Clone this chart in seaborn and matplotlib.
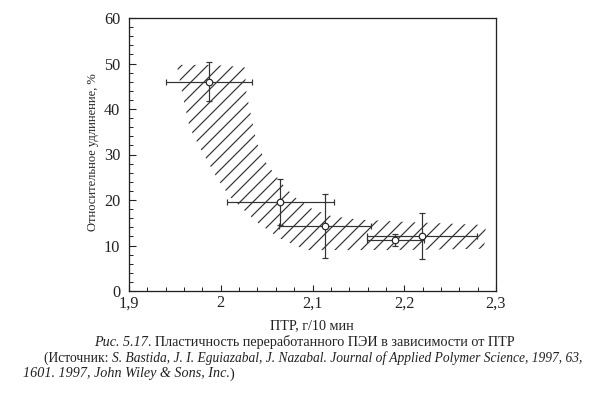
import numpy as np
import matplotlib
matplotlib.use("Agg")
import matplotlib.pyplot as plt
import seaborn as sns
import pandas as pd

# measured points (PTR, elongation) with error bars
ptr = [1.987, 2.065, 2.114, 2.190, 2.219]
elong = [46.0, 19.5, 14.3, 11.2, 12.1]
ptr_err = [0.047, 0.058, 0.050, 0.031, 0.060]
elong_err = [4.3, 5.1, 7.0, 1.4, 5.1]

# hatched band outline
band_upper_x = [1.952, 1.99, 2.026, 2.028, 2.034, 2.039, 2.05, 2.065, 2.08, 2.10, 2.12, 2.15, 2.20, 2.25, 2.289]
band_upper_y = [49.7, 49.7, 49.2, 43.5, 37.6, 32.7, 28.0, 24.0, 20.7, 18.0, 16.5, 15.7, 15.2, 14.8, 14.5]
band_lower_x = [1.952, 1.958, 1.966, 1.977, 1.996, 2.01, 2.039, 2.064, 2.093, 2.126, 2.20, 2.287]
band_lower_y = [49.7, 43.5, 36.0, 31.6, 24.8, 20.7, 15.2, 11.6, 9.0, 9.0, 9.0, 9.3]

x_ticks = [1.9, 2.0, 2.1, 2.2, 2.3]
x_ticklabels = ["1,9", "2", "2,1", "2,2", "2,3"]
y_ticks = [0, 10, 20, 30, 40, 50, 60]

sns.set_theme(style="ticks")
plt.rcParams['font.family'] = ['Liberation Serif', 'DejaVu Serif']
plt.rcParams['hatch.linewidth'] = 1.1

DPI = 78
W, H = 600, 393
fig = plt.figure(figsize=(W / DPI, H / DPI), dpi=DPI)
ax = fig.add_axes([129 / W, 1 - 291 / H, (496 - 129) / W, (291 - 18) / H])

# hatched band
poly_x = band_upper_x + band_lower_x[::-1]
poly_y = band_upper_y + band_lower_y[::-1]
ax.fill(poly_x, poly_y, facecolor='none', edgecolor='#333333', linewidth=0, hatch='//')

# error bars + open markers
ax.errorbar(ptr, elong, xerr=ptr_err, yerr=elong_err, fmt='none',
            ecolor='#333333', elinewidth=1.1, capsize=3, capthick=1.1)
df = pd.DataFrame({'ptr': ptr, 'elong': elong})
sns.scatterplot(data=df, x='ptr', y='elong', ax=ax, marker='o', s=36,
                facecolor='white', edgecolor='#222222', linewidth=1.1, zorder=5)

ax.set_xlim(1.9, 2.3)
ax.set_ylim(0, 60)
ax.set_xticks(x_ticks)
ax.set_xticklabels(x_ticklabels)
ax.set_yticks(y_ticks)
ax.set_xticks(np.arange(1.9, 2.3, 0.02), minor=True)
ax.set_yticks(np.arange(0, 60, 2), minor=True)
ax.tick_params(which='both', direction='in', top=False, right=False, colors='#222222',
               labelsize=15, labelcolor='#222222')
ax.tick_params(which='major', length=6, width=1.0)
ax.tick_params(axis='x', which='major', pad=4)
ax.tick_params(axis='y', which='major', pad=8)
ax.tick_params(which='minor', length=3.5, width=0.9)
for s in ax.spines.values():
    s.set_linewidth(1.2)
    s.set_color('#222222')

ax.set_xlabel("")
ax.set_ylabel("")


def px(x, y):
    return x / W, 1 - y / H


fig.text(*px(312, 326), "ПТР, г/10 мин", ha='center', va='center', fontsize=13, color='#222222')
fig.text(*px(93, 152), "Относительное удлинение, %", ha='center', va='center',
         rotation=90, fontsize=11.5, color='#222222')

# caption with mixed upright/italic pieces
fig.canvas.draw()
renderer = fig.canvas.get_renderer()


def draw_line(x0, y0, parts, size=13):
    x = x0
    for text, style in parts:
        t = fig.text(*px(x, y0), text, style=style, ha='left', va='center',
                     fontsize=size, color='#222222')
        bb = t.get_window_extent(renderer)
        x += bb.width


draw_line(94, 342, [("Рис. 5.17", 'italic'),
                    (". Пластичность переработанного ПЭИ в зависимости от ПТР", 'normal')])
draw_line(44, 358, [("(Источник: ", 'normal'),
                    ("S. Bastida, J. I. Eguiazabal, J. Nazabal. Journal of Applied Polymer Science, 1997, 63,", 'italic')],
          size=12.5)
draw_line(23, 374, [("1601. 1997, John Wiley & Sons, Inc.", 'italic'), (")", 'normal')])

fig.savefig("out.png", dpi=DPI)
